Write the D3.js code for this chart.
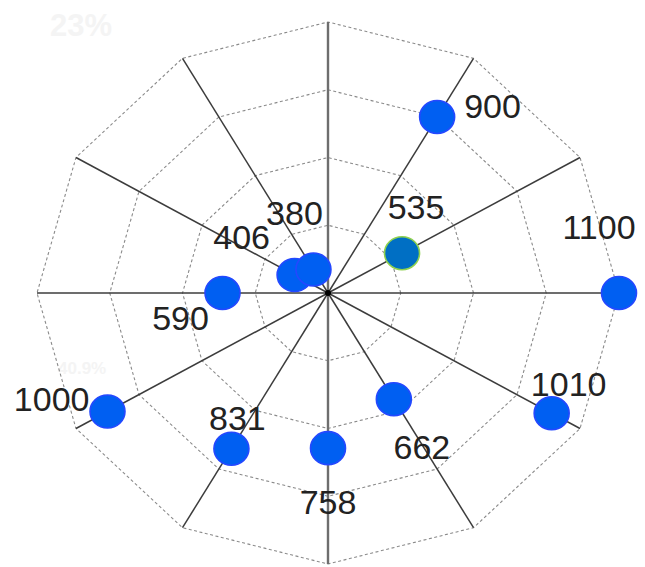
<!DOCTYPE html>
<html>
<head>
<meta charset="utf-8">
<script src="https://cdn.jsdelivr.net/npm/d3@7"></script>
<style>
  html, body { margin: 0; padding: 0; background: #fff; }
  svg { display: block; }
</style>
</head>
<body>
<svg id="chart" width="645" height="567"></svg>
<script>
// ---- data ----
const angles = [0, 330, 300, 270, 240, 210, 180, 150, 120, 60, 30];          // degrees, counter-clockwise from east
const values = [1100, 1010, 662, 758, 831, 1000, 590, 406, 380, 900, 535];
const ringValues = [500, 700, 900, 1100];
const spokeAngles = [0, 30, 60, 90, 120, 150, 180, 210, 240, 270, 300, 330];
const radialDomain = [300, 1100];
const highlighted = [535];
const watermarks = ["23%", "40.9%"];

// ---- layout ----
const cx = 328, cy = 293, rx = 291, ry = 271;
// label offsets from each point (dx, dy to baseline, anchor)
const labelLayout = [
  [-20, -54, "middle"], [17, -17, "middle"], [28, 60, "middle"], [0, 66, "middle"],
  [6, -19, "middle"], [-18, -1, "end"], [-42, 37, "middle"], [-53, -26, "middle"],
  [-19, -45, "middle"], [27, 1, "start"], [14, -34, "middle"]
];

const svg = d3.select("#chart");
const r = d3.scaleLinear().domain(radialDomain).range([0, 1]);
const ang = d3.scaleLinear().domain([0, 360]).range([0, 2 * Math.PI]);
const px = (v, a) => cx + rx * r(v) * Math.cos(ang(a));
const py = (v, a) => cy - ry * r(v) * Math.sin(ang(a));

// faint watermark texts
svg.append("text").attr("x", 50).attr("y", 36).text(watermarks[0])
  .attr("font-family", "Liberation Sans, Arial, sans-serif").attr("font-size", 31)
  .attr("font-weight", "bold").attr("fill", "#f4f4f4");
svg.append("text").attr("x", 58).attr("y", 374).text(watermarks[1])
  .attr("font-family", "Liberation Sans, Arial, sans-serif").attr("font-size", 17)
  .attr("font-weight", "bold").attr("fill", "#f4f4f4");

// rings (dodecagons)
const line = d3.line();
ringValues.forEach(v => {
  const pts = spokeAngles.map(a => [px(v, a), py(v, a)]);
  svg.append("path")
    .attr("d", line(pts) + "Z")
    .attr("fill", "none")
    .attr("stroke", "#8a8a8a")
    .attr("stroke-width", 1.1)
    .attr("stroke-dasharray", "3,2.5");
});

// spokes
spokeAngles.forEach(a => {
  const vertical = (a === 90 || a === 270);
  svg.append("line")
    .attr("x1", cx).attr("y1", cy)
    .attr("x2", px(radialDomain[1], a)).attr("y2", py(radialDomain[1], a))
    .attr("stroke", vertical ? "#6e6e6e" : "#3c3c3c")
    .attr("stroke-width", vertical ? 2.4 : 1.5);
});

// center dot
svg.append("circle").attr("cx", cx).attr("cy", cy).attr("r", 3).attr("fill", "#000");

// points
const data = values.map((v, i) => ({ v, a: angles[i], i }));
svg.selectAll("ellipse.pt").data(data).enter().append("ellipse")
  .attr("class", "pt")
  .attr("cx", d => px(d.v, d.a))
  .attr("cy", d => py(d.v, d.a))
  .attr("rx", 17.5).attr("ry", 16.5)
  .attr("fill", d => highlighted.includes(d.v) ? "#006fc4" : "#005ff2")
  .attr("stroke", d => highlighted.includes(d.v) ? "#8fd14f" : "#2448ff")
  .attr("stroke-width", 1.6);

// labels
svg.selectAll("text.lbl").data(data).enter().append("text")
  .attr("class", "lbl")
  .attr("x", d => px(d.v, d.a) + labelLayout[d.i][0])
  .attr("y", d => py(d.v, d.a) + labelLayout[d.i][1])
  .attr("text-anchor", d => labelLayout[d.i][2])
  .attr("font-family", "Liberation Sans, Arial, sans-serif")
  .attr("font-size", 34)
  .attr("fill", "#222")
  .text(d => d.v);
</script>
</body>
</html>
